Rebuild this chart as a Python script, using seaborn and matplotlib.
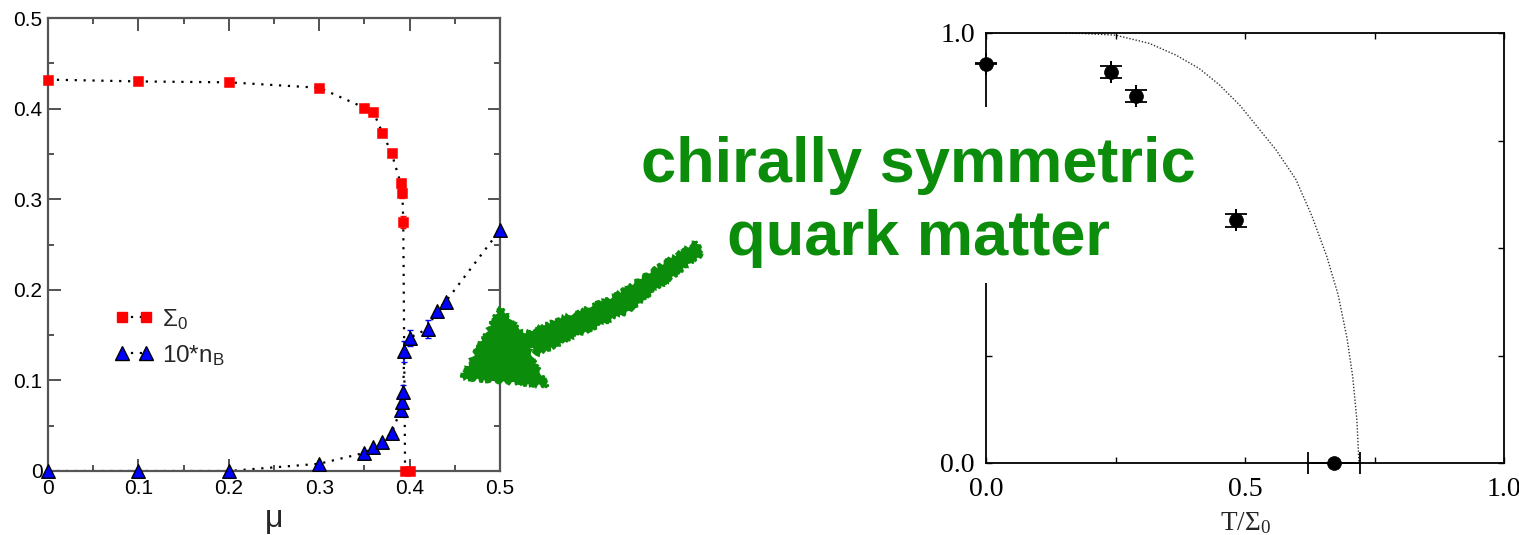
import matplotlib
matplotlib.use("Agg")
import matplotlib.pyplot as plt
import seaborn as sns
from matplotlib.lines import Line2D
from matplotlib.patches import Polygon, Rectangle
from matplotlib.ticker import FixedLocator, FixedFormatter

# ---- left panel: condensate and baryon density vs chemical potential ----
mu_sigma = [0.0, 0.1, 0.2, 0.3, 0.35, 0.36, 0.37, 0.38, 0.39, 0.392, 0.393, 0.395, 0.4]
sigma0 = [0.432, 0.430, 0.429, 0.423, 0.401, 0.396, 0.373, 0.351, 0.318, 0.307, 0.275, 0.0, 0.0]
sigma0_err = [0, 0, 0, 0, 0, 0, 0, 0, 0.003, 0.006, 0.007, 0, 0]

mu_nb = [0.0, 0.1, 0.2, 0.3, 0.35, 0.36, 0.37, 0.38, 0.39, 0.392, 0.393, 0.394,
         0.4, 0.42, 0.43, 0.44, 0.5]
nb10 = [0.0, 0.0, 0.0, 0.008, 0.020, 0.027, 0.032, 0.042, 0.067, 0.076, 0.087, 0.132,
        0.147, 0.157, 0.177, 0.187, 0.266]
nb10_err = [0, 0, 0, 0, 0, 0, 0, 0, 0, 0, 0.008, 0.012, 0.009, 0.010, 0, 0, 0]

left_ticks = [0.0, 0.1, 0.2, 0.3, 0.4, 0.5]
left_ticklabels = ["0", "0.1", "0.2", "0.3", "0.4", "0.5"]

# ---- right panel: condensate vs temperature ----
t_ratio = [0.0, 0.241, 0.290, 0.482, 0.672]
s_ratio = [0.929, 0.910, 0.8535, 0.564, 0.0]
s_ratio_err = [0.002, 0.0135, 0.0135, 0.0147, 0.0]
t_ratio_err = [0.0, 0.0, 0.0, 0.0, 0.05]

curve_t = [0.0, 0.10, 0.185, 0.25, 0.315, 0.366, 0.411, 0.45, 0.49, 0.525, 0.56,
           0.598, 0.629, 0.658, 0.68, 0.697, 0.708, 0.716, 0.72]
curve_s = [1.0, 1.0, 0.999, 0.995, 0.976, 0.949, 0.918, 0.88, 0.832, 0.78, 0.728,
           0.66, 0.575, 0.48, 0.39, 0.29, 0.20, 0.10, 0.0]

right_ticks = [0.0, 0.25, 0.5, 0.75, 1.0]
right_xlabels = ["0.0", "", "0.5", "", "1.0"]
right_ylabels = ["0.0", "", "", "", "1.0"]

sns.set_theme(style="white")
plt.rcParams["font.family"] = ["Liberation Sans", "DejaVu Sans"]
plt.rcParams["mathtext.default"] = "regular"

W, H = 1519, 535
fig = plt.figure(figsize=(W / 100, H / 100), dpi=100)
fig.patch.set_facecolor("white")


def fbox(x0, y0, x1, y1):
    """pixel box (top-left origin) -> figure fraction rect"""
    return [x0 / W, 1 - y1 / H, (x1 - x0) / W, (y1 - y0) / H]


def fpt(x, y):
    return (x / W, 1 - y / H)


dotted = (0, (1, 3))
serif = ["Liberation Serif", "DejaVu Serif"]

# ================= left panel =================
ax1 = fig.add_axes(fbox(48, 18, 500, 471))
sns.lineplot(x=mu_sigma, y=sigma0, ax=ax1, sort=False, estimator=None,
             color="black", lw=1.6, linestyle=dotted, zorder=2)
sns.lineplot(x=mu_nb, y=nb10, ax=ax1, sort=False, estimator=None,
             color="black", lw=1.6, linestyle=dotted, zorder=2)

sx = [m for m, e in zip(mu_sigma, sigma0_err) if e > 0]
sy = [v for v, e in zip(sigma0, sigma0_err) if e > 0]
se = [e for e in sigma0_err if e > 0]
ax1.errorbar(sx, sy, yerr=se, fmt="none", ecolor="red", elinewidth=1.2, capsize=2.5, zorder=3)
nx = [m for m, e in zip(mu_nb, nb10_err) if e > 0]
ny = [v for v, e in zip(nb10, nb10_err) if e > 0]
ne = [e for e in nb10_err if e > 0]
ax1.errorbar(nx, ny, yerr=ne, fmt="none", ecolor="blue", elinewidth=1.2, capsize=2.5, zorder=3)

sns.scatterplot(x=mu_sigma, y=sigma0, ax=ax1, marker="s", s=46, color="red",
                edgecolor="red", linewidth=0.4, zorder=4, clip_on=False)
sns.scatterplot(x=mu_nb, y=nb10, ax=ax1, marker="^", s=95, color="blue",
                edgecolor="black", linewidth=1.0, zorder=5, clip_on=False)

ax1.set_xlim(0, 0.5)
ax1.set_ylim(0, 0.5)
ax1.xaxis.set_major_locator(FixedLocator(left_ticks))
ax1.xaxis.set_major_formatter(FixedFormatter(left_ticklabels))
ax1.yaxis.set_major_locator(FixedLocator(left_ticks))
ax1.yaxis.set_major_formatter(FixedFormatter(left_ticklabels))
ax1.xaxis.set_minor_locator(FixedLocator([0.05, 0.15, 0.25, 0.35, 0.45]))
ax1.yaxis.set_minor_locator(FixedLocator([0.05, 0.15, 0.25, 0.35, 0.45]))
ax1.tick_params(which="both", direction="in", top=True, right=True, bottom=True, left=True,
                color="#444444", width=1.3)
ax1.tick_params(which="major", length=9, labelsize=15, labelcolor="black")
ax1.tick_params(which="minor", length=4.5)
ax1.tick_params(axis="x", which="major", pad=6)
ax1.tick_params(axis="y", which="major", pad=4)
for sp in ax1.spines.values():
    sp.set_color("#555555")
    sp.set_linewidth(1.6)
ax1.set_xlabel("μ", fontsize=23, labelpad=4)
ax1.set_ylabel("")

handles = [
    Line2D([], [], color="black", lw=1.6, linestyle=dotted, marker="s", ms=6.8,
           mfc="red", mec="red"),
    Line2D([], [], color="black", lw=1.6, linestyle=dotted, marker="^", ms=10,
           mfc="blue", mec="black", mew=1.0),
]
ax1.legend(handles, [r"$\Sigma_0$", r"10*n$_B$"], loc="center left",
           bbox_to_anchor=(0.148, 0.295), frameon=False, numpoints=2,
           handlelength=1.6, handletextpad=0.35, labelspacing=0.45,
           borderpad=0, borderaxespad=0, fontsize=17.5)

# ================= right panel =================
ax2 = fig.add_axes(fbox(986, 33, 1504, 463))
sns.lineplot(x=curve_t, y=curve_s, ax=ax2, sort=False, estimator=None,
             color="#333333", lw=1.0, linestyle=(0, (1, 1.3)), zorder=2)
ax2.errorbar(t_ratio, s_ratio, yerr=s_ratio_err, xerr=t_ratio_err, fmt="none",
             ecolor="black", elinewidth=1.4, capsize=8, capthick=1.3, zorder=3,
             clip_on=False)
sns.scatterplot(x=t_ratio, y=s_ratio, ax=ax2, marker="o", s=100, color="black",
                edgecolor="black", linewidth=0.5, zorder=4, clip_on=False)
ax2.set_xlim(0, 1)
ax2.set_ylim(0, 1)
ax2.xaxis.set_major_locator(FixedLocator(right_ticks))
ax2.xaxis.set_major_formatter(FixedFormatter(right_xlabels))
ax2.yaxis.set_major_locator(FixedLocator(right_ticks))
ax2.yaxis.set_major_formatter(FixedFormatter(right_ylabels))
ax2.tick_params(which="both", direction="in", top=True, right=True, bottom=True, left=True,
                color="black", width=1.0, length=4, labelsize=20, labelcolor="black")
ax2.tick_params(axis="x", pad=10)
ax2.tick_params(axis="y", pad=8)
for lab in ax2.get_xticklabels() + ax2.get_yticklabels():
    lab.set_family(serif)
for sp in ax2.spines.values():
    sp.set_color("black")
    sp.set_linewidth(1.3)
ax2.set_xlabel(r"T/$\Sigma_0$", fontsize=19.5, labelpad=6, family=serif)
ax2.set_ylabel("")

# ================= annotation =================
green = "#0b8c0b"
fig.add_artist(Rectangle(fpt(620, 283), (1215 - 620) / W, (283 - 107) / H,
                         transform=fig.transFigure, facecolor="white",
                         edgecolor="none", zorder=5))
fig.text(918 / W, 1 - 202 / H, "chirally symmetric\nquark matter", ha="center",
         va="center", fontsize=45.5, fontweight="bold", color=green,
         family=["Liberation Sans", "DejaVu Sans"], linespacing=1.3, zorder=6)

shaft = Polygon([fpt(519, 336), fpt(613, 297), fpt(697, 241), fpt(701, 255),
                 fpt(627, 312), fpt(538, 354)], closed=True,
                transform=fig.transFigure, facecolor=green, edgecolor=green,
                lw=1.5, zorder=7)
head = Polygon([fpt(500, 308), fpt(520, 330), fpt(547, 386), fpt(461, 378)], closed=True,
               transform=fig.transFigure, facecolor=green, edgecolor=green,
               lw=1.5, zorder=7)
for p in (shaft, head):
    p.set_sketch_params(scale=2.0, length=6, randomness=8)
    fig.add_artist(p)

fig.savefig("out.png", dpi=100, facecolor="white")
